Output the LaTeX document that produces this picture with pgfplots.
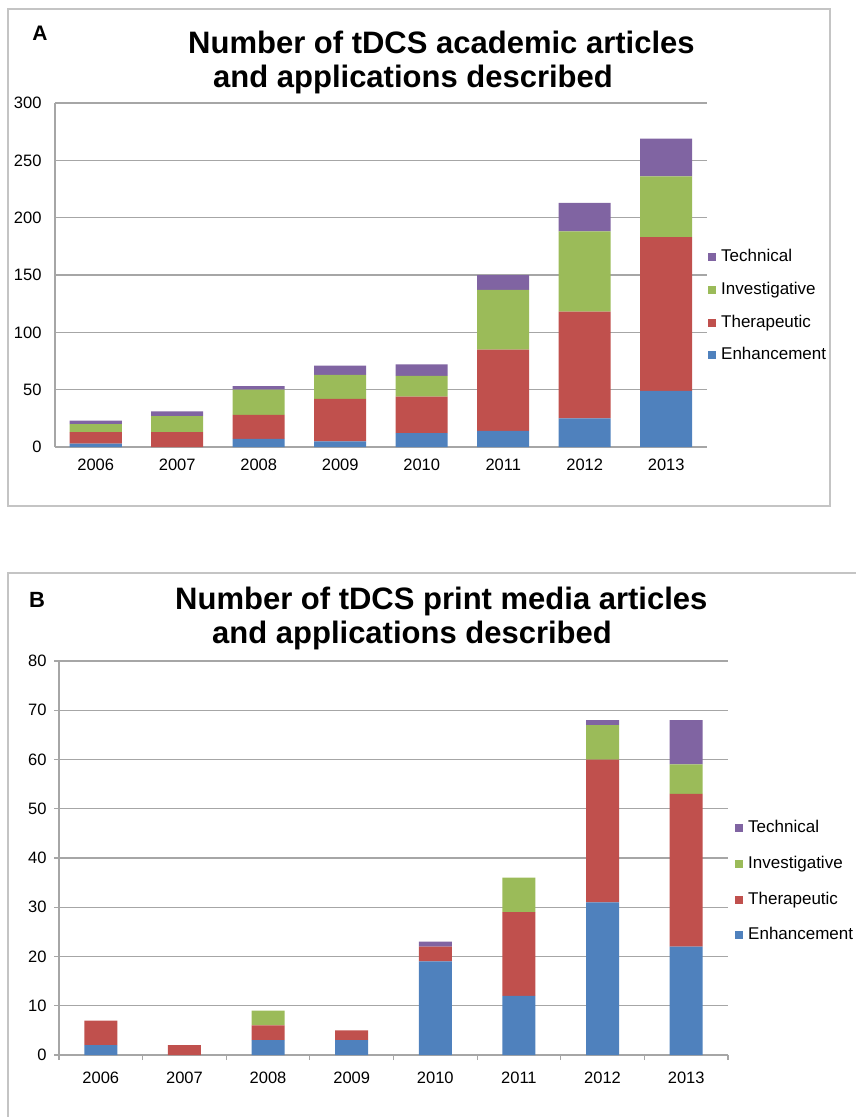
\documentclass[border=0pt]{standalone}
\usepackage{fontspec}
\setmainfont{Liberation Sans}
\usepackage{pgfplots}
\usepackage{pgfplotstable}
\pgfplotsset{compat=1.18}
\definecolor{cEnh}{HTML}{4F81BD}
\definecolor{cThe}{HTML}{C0504D}
\definecolor{cInv}{HTML}{9BBB59}
\definecolor{cTec}{HTML}{8064A2}
\definecolor{gridc}{HTML}{A6A6A6}
\definecolor{boxc}{HTML}{C4C4C4}

\pgfplotstableread{
x Enh The Inv Tec
0 3 10 7 3
1 0 13 14 4
2 7 21 22 3
3 5 37 21 8
4 12 32 18 10
5 14 71 52 13
6 25 93 70 25
7 49 134 53 33
}\dataA

\pgfplotstableread{
x Enh The Inv Tec
0 2 5 0 0
1 0 2 0 0
2 3 3 3 0
3 3 2 0 0
4 19 3 0 1
5 12 17 7 0
6 31 29 7 1
7 22 31 6 9
}\dataB

\pgfplotsset{
  common/.style={
    scale only axis, xmin=-0.5, xmax=7.5, ymin=0,
    ybar stacked,
    xtick={0,1,2,3,4,5,6,7},
    xticklabels={2006,2007,2008,2009,2010,2011,2012,2013},
    ymajorgrids, grid style={gridc, line width=1.2pt},
    axis x line*=bottom, axis y line*=left,
    axis line style={gridc, line width=1.2pt},
    /pgf/number format/assume math mode=true,
    tick label style={font=\fontsize{16.5}{19}\selectfont},
    reverse legend,
    legend cell align=left,
    legend image code/.code={\path[##1,draw=none] (0pt,-4pt) rectangle (8pt,4pt); \path (11pt,0pt);},
  }
}

\begin{document}
\begin{tikzpicture}[x=1pt,y=1pt]
\useasboundingbox (0,0) rectangle (855,-1117);
\draw[boxc, line width=1.2pt] (8,-9) rectangle (830,-506);
\draw[boxc, line width=1.2pt] (8,-1140) -- (8,-573) -- (880,-573);

\node[font=\fontsize{21}{23}\selectfont\bfseries] at (40,-33) {A};
\node[anchor=base west, inner sep=0pt, font=\fontsize{31}{36}\selectfont\bfseries] at (188,-53) {Number of tDCS academic articles};
\node[anchor=base west, inner sep=0pt, font=\fontsize{31}{36}\selectfont\bfseries] at (213,-87) {and applications described};

\node[font=\fontsize{22}{24}\selectfont\bfseries] at (37,-600) {B};
\node[anchor=base west, inner sep=0pt, font=\fontsize{31}{36}\selectfont\bfseries] at (175,-609) {Number of tDCS print media articles};
\node[anchor=base west, inner sep=0pt, font=\fontsize{31}{36}\selectfont\bfseries] at (212,-643) {and applications described};

\begin{axis}[common,
  at={(55pt,-447pt)}, anchor=south west,
  width=652pt, height=344pt,
  ymax=300, ytick={0,50,100,150,200,250,300},
  bar width=52pt,
  major tick length=0pt,
  yticklabel style={xshift=-10pt},
  xticklabel style={yshift=-8pt},
  legend style={draw=none, fill=none, at={(1.0015,0.58)}, anchor=north west,
    font=\fontsize{17}{20}\selectfont, row sep=13.7pt, inner sep=0pt,
    nodes={inner sep=2pt, text height=12pt, text depth=3pt}},
]
\addplot[fill=cEnh, draw=none] table[x=x, y=Enh] {\dataA};
\addplot[fill=cThe, draw=none] table[x=x, y=The] {\dataA};
\addplot[fill=cInv, draw=none] table[x=x, y=Inv] {\dataA};
\addplot[fill=cTec, draw=none] table[x=x, y=Tec] {\dataA};
\legend{Enhancement,Therapeutic,Investigative,Technical}
\end{axis}

\begin{axis}[common,
  at={(59pt,-1055pt)}, anchor=south west,
  width=669pt, height=394pt,
  ymax=80, ytick={0,10,20,30,40,50,60,70,80},
  bar width=33pt,
  tick align=outside, major tick length=5pt,
  tick style={gridc, line width=1.2pt},
  xtick style={draw=none},
  extra x ticks={-0.5,0.5,1.5,2.5,3.5,4.5,5.5,6.5,7.5},
  extra x tick labels={},
  extra x tick style={grid=none, xtick style={draw=gridc}},
  yticklabel style={xshift=-4pt},
  xticklabel style={yshift=-8pt},
  legend style={draw=none, fill=none, at={(1.0105,0.600)}, anchor=north west,
    font=\fontsize{17}{20}\selectfont, row sep=16.7pt, inner sep=0pt,
    nodes={inner sep=2pt, text height=12pt, text depth=3pt}},
]
\addplot[fill=cEnh, draw=none] table[x=x, y=Enh] {\dataB};
\addplot[fill=cThe, draw=none] table[x=x, y=The] {\dataB};
\addplot[fill=cInv, draw=none] table[x=x, y=Inv] {\dataB};
\addplot[fill=cTec, draw=none] table[x=x, y=Tec] {\dataB};
\legend{Enhancement,Therapeutic,Investigative,Technical}
\end{axis}
\end{tikzpicture}
\end{document}
